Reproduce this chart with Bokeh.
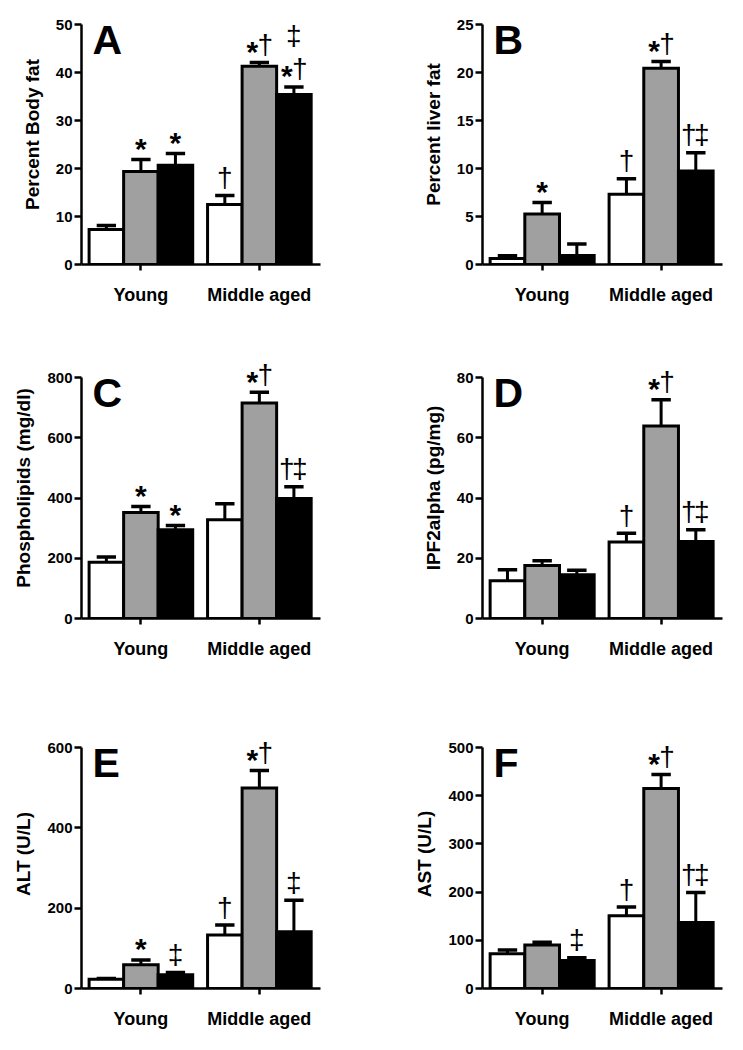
from bokeh.plotting import figure
from bokeh.layouts import gridplot
from bokeh.models import Range1d, FixedTicker, Label
from bokeh.embed import file_html
from bokeh.resources import INLINE

# ---------------- data ----------------
groups = ["Young", "Middle aged"]
bar_colors = ["#ffffff", "#a0a0a0", "#000000"]

# A: Percent body fat
body_fat_young = [7.3, 19.4, 20.7]
body_fat_young_sem = [0.8, 2.5, 2.4]
body_fat_mid = [12.5, 41.3, 35.4]
body_fat_mid_sem = [1.9, 0.8, 1.6]
body_fat_marks_young = ["", "*", "*"]
body_fat_marks_mid = ["†", "*†", "‡\n*†"]

# B: Percent liver fat
liver_fat_young = [0.62, 5.26, 0.93]
liver_fat_young_sem = [0.3, 1.2, 1.2]
liver_fat_mid = [7.33, 20.45, 9.75]
liver_fat_mid_sem = [1.6, 0.7, 1.9]
liver_fat_marks_young = ["", "*", ""]
liver_fat_marks_mid = ["†", "*†", "†‡"]

# C: Phospholipids (mg/dl)
phospholipids_young = [187, 352, 295]
phospholipids_young_sem = [17, 20, 14]
phospholipids_mid = [328, 715, 398]
phospholipids_mid_sem = [53, 36, 39]
phospholipids_marks_young = ["", "*", "*"]
phospholipids_marks_mid = ["", "*†", "†‡"]

# D: IPF2alpha (pg/mg)
ipf2_young = [12.5, 17.6, 14.5]
ipf2_young_sem = [3.7, 1.6, 1.5]
ipf2_mid = [25.4, 63.9, 25.6]
ipf2_mid_sem = [2.9, 8.7, 3.9]
ipf2_marks_young = ["", "", ""]
ipf2_marks_mid = ["†", "*†", "†‡"]

# E: ALT (U/L)
alt_young = [23, 59, 34]
alt_young_sem = [2, 12, 6]
alt_mid = [133, 499, 141]
alt_mid_sem = [25, 44, 79]
alt_marks_young = ["", "*", "‡"]
alt_marks_mid = ["†", "*†", "‡"]

# F: AST (U/L)
ast_young = [72, 90.5, 58]
ast_young_sem = [8, 5.5, 6]
ast_mid = [151, 415, 137]
ast_mid_sem = [18, 29, 62]
ast_marks_young = ["", "", "‡"]
ast_marks_mid = ["†", "*†", "†‡"]

y_ticks_A = [0, 10, 20, 30, 40, 50]
y_ticks_B = [0, 5, 10, 15, 20, 25]
y_ticks_C = [0, 200, 400, 600, 800]
y_ticks_D = [0, 20, 40, 60, 80]
y_ticks_E = [0, 200, 400, 600]
y_ticks_F = [0, 100, 200, 300, 400, 500]

# ---------------- styling / layout ----------------
FONT = "Liberation Sans"
GROUP_POS = [0.0, 3.43]
OFFSETS = [-1, 0, 1]
X_RANGE = (-1.72, 5.2)
CAP_HALF = 0.28


def make_panel(letter, ylabel, yticks, young, young_sem, mid, mid_sem,
               marks_young, marks_mid, width, bl, br, bt, axis_h, extra, bb):
    ymax = yticks[-1]
    # frame is taller than the axis so that the marks above the top bars are not clipped
    y_end = ymax * (axis_h + extra) / axis_h
    p = figure(width=width, height=bt + axis_h + extra + bb,
               x_range=Range1d(*X_RANGE), y_range=Range1d(yticks[0], y_end),
               output_backend="svg", toolbar_location=None,
               min_border_left=bl, min_border_right=br,
               min_border_top=bt, min_border_bottom=bb)
    p.outline_line_color = None
    p.xgrid.visible = False
    p.ygrid.visible = False
    p.background_fill_color = "white"
    p.border_fill_color = "white"

    means = list(young) + list(mid)
    sems = list(young_sem) + list(mid_sem)
    marks = list(marks_young) + list(marks_mid)
    xs = [g + o for g in GROUP_POS for o in OFFSETS]
    cols = bar_colors * 2
    tops = [m + s for m, s in zip(means, sems)]

    # error bars (upper only)
    p.segment(x0=xs, y0=means, x1=xs, y1=tops, line_color="black", line_width=3)
    p.segment(x0=[x - CAP_HALF for x in xs], y0=tops,
              x1=[x + CAP_HALF for x in xs], y1=tops,
              line_color="black", line_width=3.5)
    # bars
    p.vbar(x=xs, top=means, bottom=0, width=1.0, fill_color=cols,
           line_color="black", line_width=3, line_join="miter")

    # significance marks
    for x, top, mk in zip(xs, tops, marks):
        if not mk:
            continue
        lines = mk.split("\n")[::-1]  # bottom line first
        for li, line in enumerate(lines):
            offs = [0] if len(line) == 1 else [-7, 6]
            for ch, xo in zip(line, offs):
                lift = li * 33
                if ch == "*":
                    p.add_layout(Label(x=x, y=top, text=ch, x_offset=xo, y_offset=11 + lift,
                                       text_font=FONT, text_font_style="bold",
                                       text_font_size="30px", text_align="center",
                                       text_baseline="middle", text_color="black"))
                else:
                    p.add_layout(Label(x=x, y=top, text=ch, x_offset=xo, y_offset=18 + lift,
                                       text_font=FONT, text_font_style="normal",
                                       text_font_size="28px", text_align="center",
                                       text_baseline="middle", text_color="black"))

    # panel letter
    p.add_layout(Label(x=X_RANGE[0], y=ymax, text=letter, x_offset=11, y_offset=-15,
                       text_font=FONT, text_font_style="bold", text_font_size="41px",
                       text_align="left", text_baseline="middle", text_color="black"))

    # y axis
    ya = p.yaxis[0]
    ya.ticker = FixedTicker(ticks=yticks)
    ya.bounds = (yticks[0], ymax)
    ya.axis_label = ylabel
    ya.axis_label_text_font = FONT
    ya.axis_label_text_font_style = "bold"
    ya.axis_label_text_font_size = "19px"
    ya.axis_label_text_color = "black"
    ya.axis_label_standoff = 10
    ya.major_label_text_font = FONT
    ya.major_label_text_font_style = "bold"
    ya.major_label_text_font_size = "15px"
    ya.major_label_text_color = "black"
    ya.major_label_standoff = 2
    ya.axis_line_width = 2.5
    ya.major_tick_line_width = 2.5
    ya.major_tick_out = 7
    ya.major_tick_in = 0
    ya.minor_tick_out = 0
    ya.minor_tick_in = 0

    # x axis
    xa = p.xaxis[0]
    xa.ticker = FixedTicker(ticks=GROUP_POS)
    xa.major_label_overrides = {GROUP_POS[0]: groups[0], GROUP_POS[1]: groups[1]}
    xa.major_label_text_font = FONT
    xa.major_label_text_font_style = "bold"
    xa.major_label_text_font_size = "18px"
    xa.major_label_text_color = "black"
    xa.major_label_standoff = 14
    xa.axis_line_width = 2.5
    xa.major_tick_line_width = 2.5
    xa.major_tick_out = 6
    xa.major_tick_in = 0
    xa.minor_tick_out = 0
    xa.minor_tick_in = 0
    return p


LW, RW = 367, 367
LB, LR = 81, 47
RB, RR = 115, 12
# (border top, axis height, extra frame above axis, border bottom)
rows = [(4, 240, 20, 93), (0, 241, 20, 101), (0, 241, 28, 51)]

pa = make_panel("A", "Percent Body fat", y_ticks_A, body_fat_young, body_fat_young_sem,
                body_fat_mid, body_fat_mid_sem, body_fat_marks_young, body_fat_marks_mid,
                LW, LB, LR, *rows[0])
pb = make_panel("B", "Percent liver fat", y_ticks_B, liver_fat_young, liver_fat_young_sem,
                liver_fat_mid, liver_fat_mid_sem, liver_fat_marks_young, liver_fat_marks_mid,
                RW, RB, RR, *rows[0])
pc = make_panel("C", "Phospholipids (mg/dl)", y_ticks_C, phospholipids_young, phospholipids_young_sem,
                phospholipids_mid, phospholipids_mid_sem, phospholipids_marks_young,
                phospholipids_marks_mid, LW, LB, LR, *rows[1])
pd_ = make_panel("D", "IPF2alpha (pg/mg)", y_ticks_D, ipf2_young, ipf2_young_sem,
                 ipf2_mid, ipf2_mid_sem, ipf2_marks_young, ipf2_marks_mid,
                 RW, RB, RR, *rows[1])
pe = make_panel("E", "ALT (U/L)", y_ticks_E, alt_young, alt_young_sem,
                alt_mid, alt_mid_sem, alt_marks_young, alt_marks_mid,
                LW, LB, LR, *rows[2])
pf = make_panel("F", "AST (U/L)", y_ticks_F, ast_young, ast_young_sem,
                ast_mid, ast_mid_sem, ast_marks_young, ast_marks_mid,
                RW, RB, RR, *rows[2])

grid = gridplot([[pa, pb], [pc, pd_], [pe, pf]], toolbar_location=None)

open("out.html", "w").write(file_html(grid, INLINE))
